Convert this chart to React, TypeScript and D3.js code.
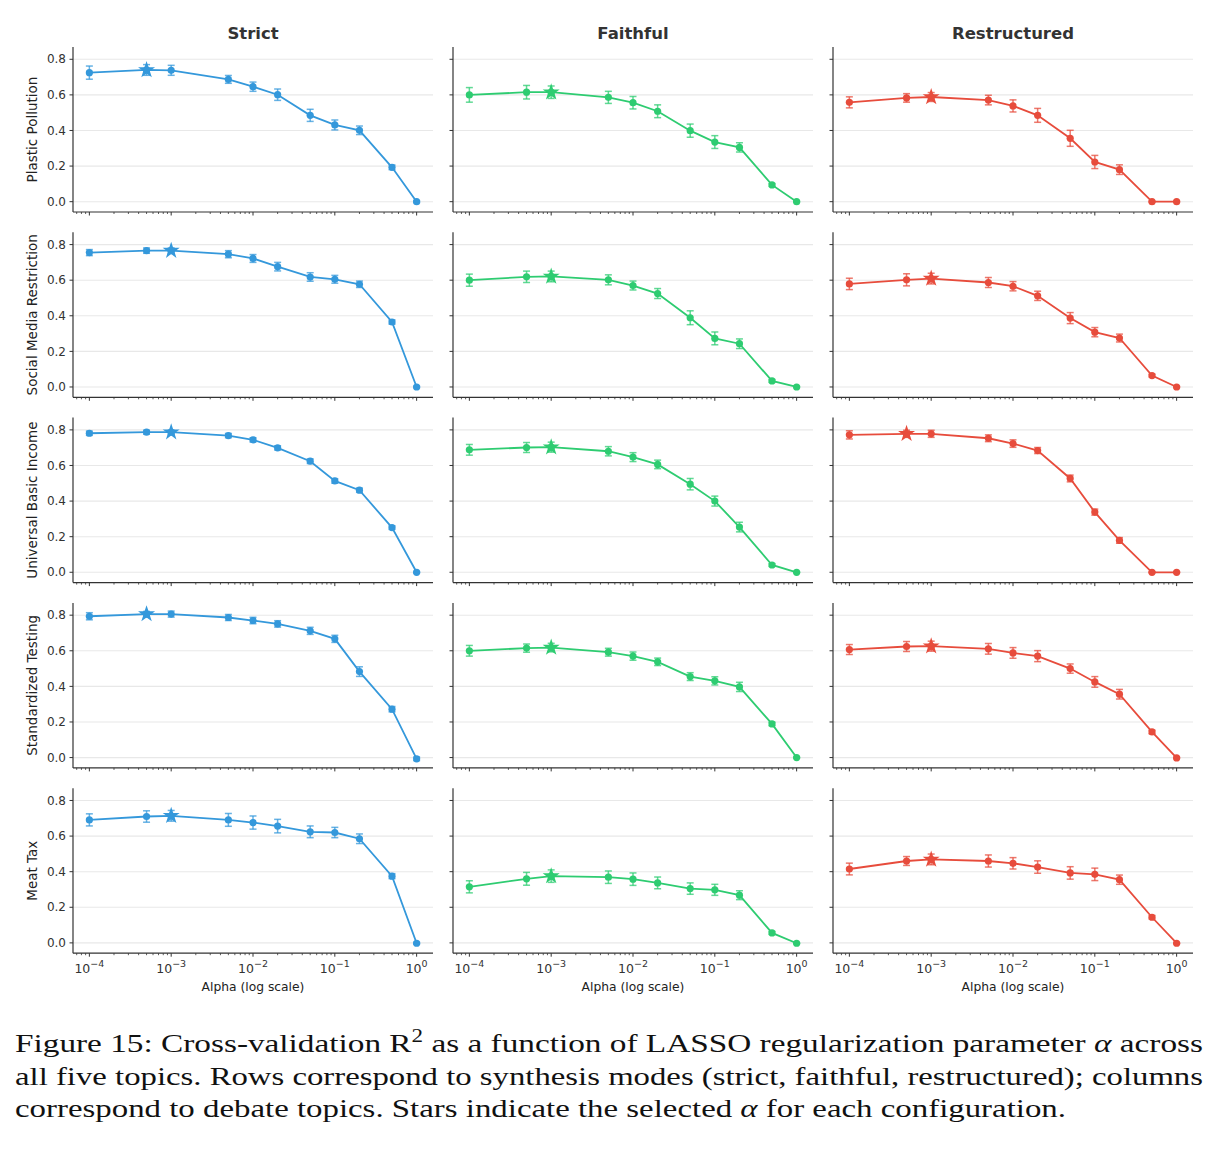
import { useEffect, useRef } from "react";
import * as d3 from "d3";

// LASSO alpha grid
const alphas = [1e-4, 5e-4, 1e-3, 5e-3, 1e-2, 2e-2, 5e-2, 1e-1, 2e-1, 5e-1, 1];

const topics = ["Plastic Pollution", "Social Media Restriction", "Universal Basic Income", "Standardized Testing", "Meat Tax"];
const modes = ["Strict", "Faithful", "Restructured"];
const modeColors = ["#3498db", "#2ecc71", "#e74c3c"];

const yTicks = [0, 0.2, 0.4, 0.6, 0.8];
const xMajorExps = [-4, -3, -2, -1, 0];

// mean CV R^2 per topic (rows) and alpha (columns)
const strictR2 = [
    [0.725, 0.740, 0.738, 0.687, 0.646, 0.601, 0.485, 0.431, 0.401, 0.193, 0.0],
    [0.755, 0.766, 0.766, 0.746, 0.722, 0.676, 0.618, 0.605, 0.577, 0.365, 0.0],
    [0.781, 0.787, 0.787, 0.768, 0.744, 0.699, 0.624, 0.513, 0.461, 0.251, 0.0],
    [0.794, 0.806, 0.806, 0.787, 0.770, 0.751, 0.712, 0.667, 0.483, 0.272, -0.007],
    [0.691, 0.710, 0.714, 0.691, 0.676, 0.656, 0.624, 0.620, 0.585, 0.375, -0.002],
];
const strictErr = [
    [0.037, 0.030, 0.028, 0.022, 0.026, 0.032, 0.034, 0.028, 0.024, 0.013, 0.005],
    [0.017, 0.015, 0.015, 0.020, 0.022, 0.024, 0.024, 0.022, 0.018, 0.012, 0.004],
    [0.012, 0.011, 0.011, 0.012, 0.012, 0.012, 0.013, 0.013, 0.012, 0.010, 0.004],
    [0.020, 0.015, 0.017, 0.017, 0.018, 0.018, 0.020, 0.020, 0.027, 0.015, 0.010],
    [0.034, 0.032, 0.030, 0.036, 0.037, 0.038, 0.033, 0.029, 0.027, 0.014, 0.005],
];
const strictBest = [5e-4, 1e-3, 1e-3, 5e-4, 1e-3];

const faithfulR2 = [
    [0.600, 0.615, 0.615, 0.586, 0.556, 0.508, 0.399, 0.335, 0.305, 0.094, 0.0],
    [0.600, 0.619, 0.621, 0.602, 0.570, 0.525, 0.389, 0.273, 0.243, 0.034, 0.0],
    [0.688, 0.701, 0.703, 0.680, 0.647, 0.606, 0.495, 0.400, 0.254, 0.041, 0.0],
    [0.600, 0.615, 0.618, 0.592, 0.570, 0.538, 0.455, 0.431, 0.397, 0.189, 0.0],
    [0.315, 0.360, 0.375, 0.369, 0.358, 0.337, 0.305, 0.298, 0.268, 0.056, -0.002],
];
const faithfulErr = [
    [0.041, 0.038, 0.035, 0.034, 0.035, 0.036, 0.037, 0.036, 0.026, 0.008, 0.003],
    [0.034, 0.032, 0.030, 0.028, 0.025, 0.028, 0.039, 0.036, 0.027, 0.008, 0.003],
    [0.030, 0.028, 0.028, 0.026, 0.025, 0.024, 0.032, 0.028, 0.027, 0.008, 0.003],
    [0.030, 0.023, 0.024, 0.022, 0.023, 0.021, 0.022, 0.023, 0.026, 0.010, 0.003],
    [0.034, 0.036, 0.035, 0.035, 0.035, 0.033, 0.032, 0.031, 0.025, 0.008, 0.003],
];
const faithfulBest = [1e-3, 1e-3, 1e-3, 1e-3, 1e-3];

const restructuredR2 = [
    [0.558, 0.583, 0.588, 0.571, 0.538, 0.485, 0.356, 0.223, 0.180, 0.0, 0.0],
    [0.579, 0.602, 0.609, 0.587, 0.566, 0.512, 0.387, 0.308, 0.275, 0.064, 0.0],
    [0.772, 0.778, 0.778, 0.753, 0.723, 0.684, 0.527, 0.338, 0.179, 0.0, 0.0],
    [0.607, 0.624, 0.626, 0.611, 0.588, 0.570, 0.500, 0.425, 0.356, 0.144, -0.002],
    [0.415, 0.460, 0.469, 0.460, 0.447, 0.426, 0.393, 0.385, 0.355, 0.144, -0.002],
];
const restructuredErr = [
    [0.031, 0.024, 0.025, 0.027, 0.034, 0.039, 0.045, 0.037, 0.027, 0.003, 0.003],
    [0.032, 0.034, 0.030, 0.028, 0.026, 0.026, 0.031, 0.026, 0.022, 0.008, 0.003],
    [0.023, 0.020, 0.020, 0.019, 0.021, 0.017, 0.019, 0.017, 0.016, 0.003, 0.003],
    [0.028, 0.028, 0.028, 0.030, 0.030, 0.031, 0.026, 0.030, 0.027, 0.010, 0.003],
    [0.033, 0.025, 0.030, 0.034, 0.032, 0.035, 0.035, 0.035, 0.026, 0.010, 0.003],
];
const restructuredBest = [1e-3, 1e-3, 5e-4, 1e-3, 1e-3];

const meansByMode = [strictR2, faithfulR2, restructuredR2];
const errsByMode = [strictErr, faithfulErr, restructuredErr];
const bestByMode = [strictBest, faithfulBest, restructuredBest];

const WIDTH = 1218;
const HEIGHT = 1153;
const SANS = "'DejaVu Sans', sans-serif";
const SERIF = "Liberation Serif, Times New Roman, Times, serif";

export default function App() {
    const svgRef = useRef<SVGSVGElement>(null);

    useEffect(() => {
        if (!svgRef.current) return;
        const svg = d3.select(svgRef.current);
        svg.selectAll("*").remove();

        svg.append("rect").attr("width", WIDTH).attr("height", HEIGHT).style("fill", "#ffffff");

        // panel grid
        const panelLeft = 73, panelTop = 47;
        const panelW = 360, panelH = 165;
        const colStep = 380, rowStep = 185.3;

        // minor ticks on the log axis
        const xDomain: [number, number] = [Math.pow(10, -4.2), Math.pow(10, 0.2)];
        const minorTicks: number[] = [];
        for (let e = -5; e <= 0; e++) {
            for (let m = 2; m <= 9; m++) {
                const v = m * Math.pow(10, e);
                if (v >= xDomain[0] && v <= xDomain[1]) minorTicks.push(v);
            }
        }

        modes.forEach((mode, c) => {
            const color = modeColors[c];
            const x0 = panelLeft + c * colStep;

            // column title
            svg.append("text")
                .attr("x", x0 + panelW / 2)
                .attr("y", 39)
                .attr("text-anchor", "middle")
                .style("fill", "#333333")
                .style("font-family", SANS)
                .style("font-size", "16.5px")
                .style("font-weight", "700")
                .text(mode);

            topics.forEach((topic, r) => {
                const y0 = panelTop + r * rowStep;
                const means = meansByMode[c][r];
                const errs = errsByMode[c][r];
                const best = bestByMode[c][r];

                const x = d3.scaleLog().domain(xDomain).range([x0, x0 + panelW]);
                const y = d3.scaleLinear().domain([-0.058, 0.869]).range([y0 + panelH, y0]);

                const g = svg.append("g");

                // horizontal grid
                g.selectAll(".grid")
                    .data(yTicks)
                    .enter()
                    .append("line")
                    .attr("x1", x0)
                    .attr("x2", x0 + panelW)
                    .attr("y1", d => y(d))
                    .attr("y2", d => y(d))
                    .style("stroke", "#e8e8e8")
                    .style("stroke-width", 1.1);

                // y ticks
                g.selectAll(".ytick")
                    .data(yTicks)
                    .enter()
                    .append("line")
                    .attr("x1", x0 - 3.5)
                    .attr("x2", x0)
                    .attr("y1", d => y(d))
                    .attr("y2", d => y(d))
                    .style("stroke", "#333333")
                    .style("stroke-width", 1);

                if (c === 0) {
                    g.selectAll(".ylab")
                        .data(yTicks)
                        .enter()
                        .append("text")
                        .attr("x", x0 - 7)
                        .attr("y", d => y(d))
                        .attr("dy", "0.35em")
                        .attr("text-anchor", "end")
                        .style("fill", "#333333")
                        .style("font-family", SANS)
                        .style("font-size", "12px")
                        .text(d => d.toFixed(1));

                    svg.append("text")
                        .attr("transform", `translate(37,${y0 + panelH / 2}) rotate(-90)`)
                        .attr("text-anchor", "middle")
                        .style("fill", "#222222")
                        .style("font-family", SANS)
                        .style("font-size", "13.5px")
                        .text(topic);
                }

                // x ticks
                g.selectAll(".xmajor")
                    .data(xMajorExps)
                    .enter()
                    .append("line")
                    .attr("x1", d => x(Math.pow(10, d)))
                    .attr("x2", d => x(Math.pow(10, d)))
                    .attr("y1", y0 + panelH)
                    .attr("y2", y0 + panelH + 3.5)
                    .style("stroke", "#333333")
                    .style("stroke-width", 1);

                g.selectAll(".xminor")
                    .data(minorTicks)
                    .enter()
                    .append("line")
                    .attr("x1", d => x(d))
                    .attr("x2", d => x(d))
                    .attr("y1", y0 + panelH)
                    .attr("y2", y0 + panelH + 2)
                    .style("stroke", "#333333")
                    .style("stroke-width", 0.8);

                if (r === topics.length - 1) {
                    const lbl = g.selectAll(".xlab")
                        .data(xMajorExps)
                        .enter()
                        .append("text")
                        .attr("x", d => x(Math.pow(10, d)))
                        .attr("y", y0 + panelH + 20)
                        .attr("text-anchor", "middle")
                        .style("fill", "#333333")
                        .style("font-family", SANS)
                        .style("font-size", "12.5px");
                    lbl.append("tspan").text("10");
                    lbl.append("tspan")
                        .attr("dy", -6)
                        .style("font-size", "9.5px")
                        .text(d => (d < 0 ? "\u2212" + Math.abs(d) : String(d)));

                    svg.append("text")
                        .attr("x", x0 + panelW / 2)
                        .attr("y", y0 + panelH + 38)
                        .attr("text-anchor", "middle")
                        .style("fill", "#222222")
                        .style("font-family", SANS)
                        .style("font-size", "12.3px")
                        .text("Alpha (log scale)");
                }

                // spines
                g.append("line")
                    .attr("x1", x0).attr("x2", x0)
                    .attr("y1", y0).attr("y2", y0 + panelH)
                    .style("stroke", "#333333")
                    .style("stroke-width", 1.2);
                g.append("line")
                    .attr("x1", x0).attr("x2", x0 + panelW)
                    .attr("y1", y0 + panelH).attr("y2", y0 + panelH)
                    .style("stroke", "#333333")
                    .style("stroke-width", 1.2);

                const pts = alphas.map((a, i) => ({ a, m: means[i], e: errs[i] }));

                // error bars
                const eb = g.selectAll(".eb")
                    .data(pts)
                    .enter()
                    .append("g")
                    .style("stroke", color)
                    .style("stroke-opacity", 0.75)
                    .style("stroke-width", 1.5);
                eb.append("line")
                    .attr("x1", d => x(d.a)).attr("x2", d => x(d.a))
                    .attr("y1", d => y(d.m - d.e)).attr("y2", d => y(d.m + d.e));
                eb.append("line")
                    .attr("x1", d => x(d.a) - 3.5).attr("x2", d => x(d.a) + 3.5)
                    .attr("y1", d => y(d.m - d.e)).attr("y2", d => y(d.m - d.e));
                eb.append("line")
                    .attr("x1", d => x(d.a) - 3.5).attr("x2", d => x(d.a) + 3.5)
                    .attr("y1", d => y(d.m + d.e)).attr("y2", d => y(d.m + d.e));

                // line + markers
                const line = d3.line<{ a: number; m: number }>()
                    .x(d => x(d.a))
                    .y(d => y(d.m));
                g.append("path")
                    .datum(pts)
                    .attr("d", line)
                    .style("fill", "none")
                    .style("stroke", color)
                    .style("stroke-width", 1.8);

                g.selectAll(".dot")
                    .data(pts)
                    .enter()
                    .append("circle")
                    .attr("cx", d => x(d.a))
                    .attr("cy", d => y(d.m))
                    .attr("r", 3.6)
                    .style("fill", color);

                // selected alpha
                const bi = alphas.indexOf(best);
                g.append("path")
                    .attr("d", d3.symbol().type(d3.symbolStar).size(90)())
                    .attr("transform", `translate(${x(best)},${y(means[bi])})`)
                    .style("fill", color);
            });
        });

        // caption
        const cap = svg.append("g")
            .attr("font-family", SERIF)
            .attr("font-size", 26)
            .attr("fill", "#111111");

        const l1 = cap.append("text")
            .attr("x", 15).attr("y", 1052)
            .attr("font-family", SERIF)
            .attr("textLength", 1188)
            .attr("lengthAdjust", "spacingAndGlyphs");
        l1.append("tspan").text("Figure 15: Cross-validation R");
        l1.append("tspan").attr("dy", -10).attr("font-size", 18).text("2");
        l1.append("tspan").attr("dy", 10).text(" as a function of LASSO regularization parameter ");
        l1.append("tspan").attr("font-style", "italic").text("\u03b1");
        l1.append("tspan").text(" across");

        cap.append("text")
            .attr("x", 15).attr("y", 1085)
            .attr("font-family", SERIF)
            .attr("textLength", 1188)
            .attr("lengthAdjust", "spacingAndGlyphs")
            .text("all five topics. Rows correspond to synthesis modes (strict, faithful, restructured); columns");

        const l3 = cap.append("text")
            .attr("x", 15).attr("y", 1117)
            .attr("font-family", SERIF)
            .attr("textLength", 1051)
            .attr("lengthAdjust", "spacingAndGlyphs");
        l3.append("tspan").text("correspond to debate topics. Stars indicate the selected ");
        l3.append("tspan").attr("font-style", "italic").text("\u03b1");
        l3.append("tspan").text(" for each configuration.");
    }, []);

    return (
        <svg
            ref={svgRef}
            width={WIDTH}
            height={HEIGHT}
            style={{ position: "absolute", left: 0, top: 0, display: "block" }}
        />
    );
}
